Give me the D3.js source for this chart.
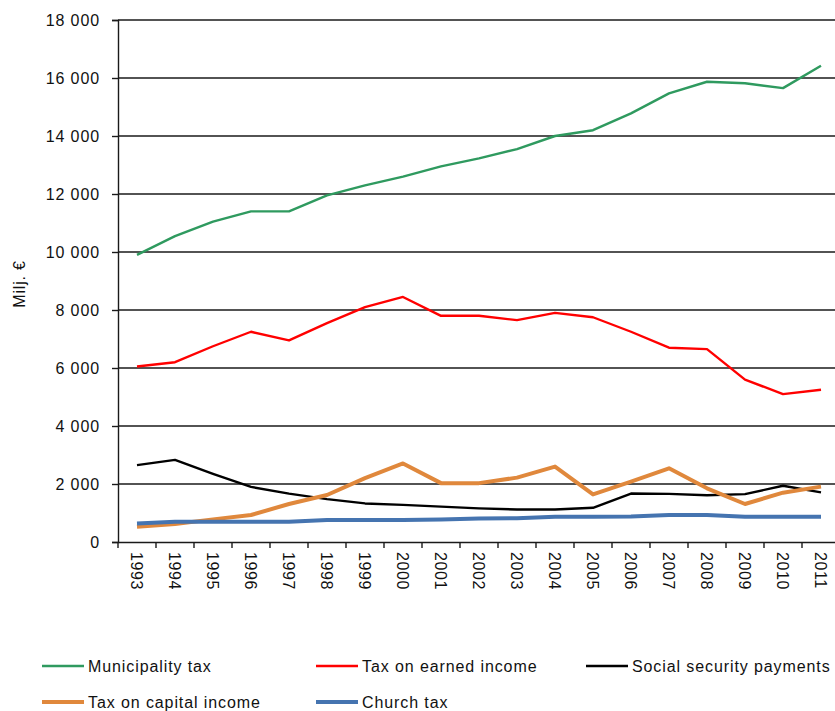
<!DOCTYPE html>
<html>
<head>
<meta charset="utf-8">
<script src="https://cdn.jsdelivr.net/npm/d3@7"></script>
<style>
  body { margin: 0; background: #fff; }
  svg { display: block; font-family: "Liberation Sans", Arial, sans-serif; }
</style>
</head>
<body>
<div id="chart"></div>
<script>
// Municipal taxes by type, 1993-2011 (Milj. €)
const years = ['1993','1994','1995','1996','1997','1998','1999','2000','2001','2002',
  '2003','2004','2005','2006','2007','2008','2009','2010','2011'];

const municipalityTax = [9900, 10550, 11050, 11400, 11400, 11950, 12300, 12600, 12950, 13230,
  13550, 14000, 14200, 14780, 15470, 15870, 15820, 15650, 16420];
const earnedIncomeTax = [6050, 6200, 6750, 7250, 6950, 7550, 8100, 8450, 7800, 7800,
  7650, 7900, 7750, 7250, 6700, 6650, 5600, 5100, 5250];
const socialSecurity = [2650, 2830, 2350, 1900, 1670, 1480, 1330, 1280, 1220, 1160,
  1120, 1120, 1180, 1670, 1660, 1610, 1650, 1940, 1710];
const capitalIncomeTax = [530, 620, 780, 930, 1310, 1620, 2200, 2710, 2030, 2030,
  2220, 2600, 1640, 2080, 2540, 1850, 1310, 1700, 1910];
const churchTax = [640, 700, 700, 700, 700, 760, 760, 760, 780, 810,
  820, 870, 870, 880, 930, 930, 870, 870, 870];

const yTicks = [0, 2000, 4000, 6000, 8000, 10000, 12000, 14000, 16000, 18000];

const series = [
  { name: 'Municipality tax', values: municipalityTax, color: '#2f9a5f', width: 2.4 },
  { name: 'Tax on earned income', values: earnedIncomeTax, color: '#ff0000', width: 2.4 },
  { name: 'Social security payments', values: socialSecurity, color: '#000000', width: 2.4 },
  { name: 'Tax on capital income', values: capitalIncomeTax, color: '#e0883c', width: 4 },
  { name: 'Church tax', values: churchTax, color: '#4574b0', width: 4 },
];

const width = 835, height = 711;
const plot = { left: 118, right: 840, top: 20, bottom: 542 };

const svg = d3.select('#chart').append('svg')
  .attr('width', width)
  .attr('height', height);

const x = d3.scaleBand().domain(years).range([plot.left, plot.right]);
const y = d3.scaleLinear().domain([0, 18000]).range([plot.bottom, plot.top]);

// thousands separated by a space: 18 000
const fmt = v => d3.format(',')(v).replace(',', ' ');

// gridlines
svg.append('g')
  .selectAll('line')
  .data(yTicks.filter(d => d > 0))
  .join('line')
  .attr('x1', plot.left).attr('x2', plot.right)
  .attr('y1', d => y(d)).attr('y2', d => y(d))
  .attr('stroke', '#1a1a1a')
  .attr('stroke-width', 1.4);

// y axis
const yAxis = svg.append('g')
  .attr('transform', `translate(${plot.left},0)`)
  .call(d3.axisLeft(y).tickValues(yTicks).tickSize(6).tickPadding(12).tickFormat(d => fmt(d)));
yAxis.select('.domain').attr('stroke', '#1a1a1a').attr('stroke-width', 1.4);
yAxis.selectAll('.tick line').attr('stroke', '#1a1a1a').attr('stroke-width', 1.4);
yAxis.selectAll('.tick text')
  .attr('font-size', 16)
  .attr('letter-spacing', 0.9)
  .attr('fill', '#111');

// x axis
const xAxis = svg.append('g')
  .attr('transform', `translate(0,${plot.bottom})`)
  .call(d3.axisBottom(x).tickSize(0).tickPadding(0));
xAxis.select('.domain').attr('stroke', '#1a1a1a').attr('stroke-width', 1.4);
xAxis.selectAll('.tick text')
  .attr('font-size', 16)
  .attr('letter-spacing', 0.6)
  .attr('fill', '#111')
  .attr('text-anchor', 'start')
  .attr('dy', '0.35em')
  .attr('transform', 'translate(0,10) rotate(90)');

// band boundary ticks
svg.append('g')
  .selectAll('line')
  .data(years)
  .join('line')
  .attr('x1', d => x(d)).attr('x2', d => x(d))
  .attr('y1', plot.bottom).attr('y2', plot.bottom + 6)
  .attr('stroke', '#1a1a1a')
  .attr('stroke-width', 1.4);

// y label
svg.append('text')
  .attr('transform', `translate(25,284) rotate(-90)`)
  .attr('text-anchor', 'middle')
  .attr('font-size', 16)
  .attr('letter-spacing', 0.8)
  .attr('fill', '#111')
  .text('Milj. €');

// lines
const line = d3.line()
  .x((d, i) => x(years[i]) + x.bandwidth() / 2)
  .y(d => y(d));

svg.append('g')
  .selectAll('path')
  .data(series)
  .join('path')
  .attr('d', d => line(d.values))
  .attr('fill', 'none')
  .attr('stroke', d => d.color)
  .attr('stroke-width', d => d.width)
  .attr('stroke-linejoin', 'round');

// legend
const legendPos = [
  { x: 42, y: 666 }, { x: 316, y: 666 }, { x: 586, y: 666 },
  { x: 42, y: 702 }, { x: 316, y: 702 },
];
const legend = svg.append('g')
  .selectAll('g')
  .data(series)
  .join('g')
  .attr('transform', (d, i) => `translate(${legendPos[i].x},${legendPos[i].y})`);

legend.append('line')
  .attr('x1', 0).attr('x2', 42)
  .attr('stroke', d => d.color)
  .attr('stroke-width', d => d.width);

legend.append('text')
  .attr('x', 46)
  .attr('dy', '0.36em')
  .attr('font-size', 16)
  .attr('letter-spacing', 0.9)
  .attr('fill', '#111')
  .text(d => d.name);
</script>
</body>
</html>
